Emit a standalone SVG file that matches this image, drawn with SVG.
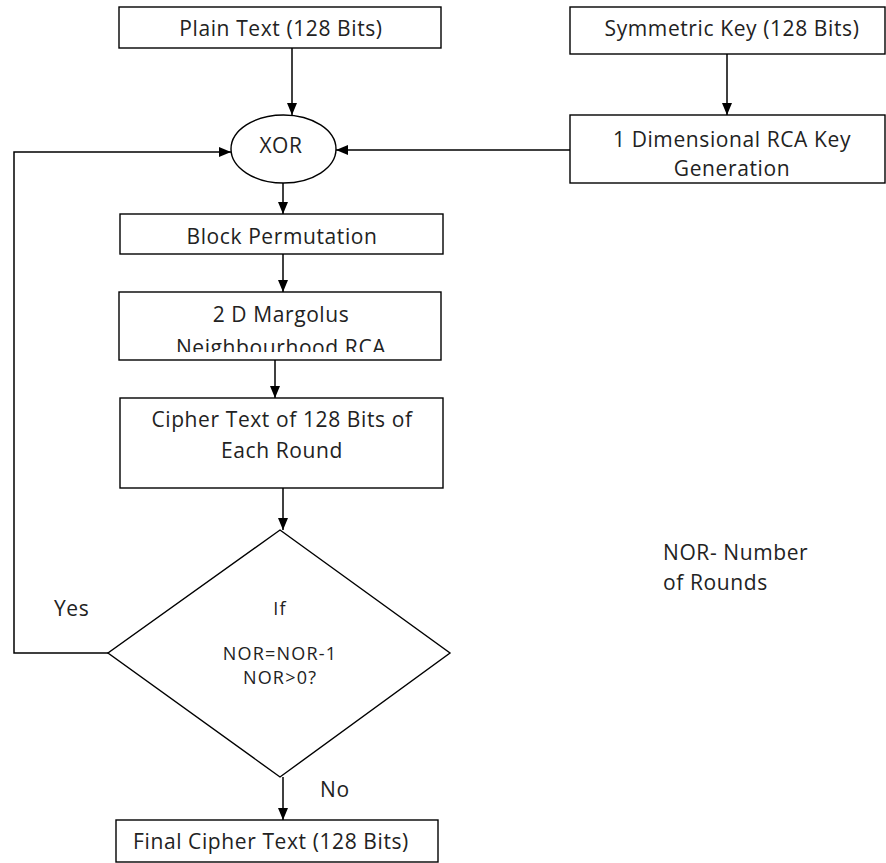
<svg xmlns="http://www.w3.org/2000/svg" width="886" height="863" viewBox="0 0 886 863">
<style>
.box{fill:#fff;stroke:#000;stroke-width:1.4}
.t{font-family:"Open Sans","Liberation Sans",sans-serif;font-size:21px;letter-spacing:0.6px;fill:#222;text-anchor:middle}
.s{font-family:"Open Sans","Liberation Sans",sans-serif;font-size:18px;letter-spacing:1.2px;fill:#222;text-anchor:middle}
.l{font-family:"Open Sans","Liberation Sans",sans-serif;font-size:21px;letter-spacing:0.6px;fill:#222}
.c{fill:none;stroke:#000;stroke-width:1.5}
</style>
<defs>
<marker id="ah" viewBox="0 0 12 10" refX="12" refY="5" markerWidth="12" markerHeight="10" markerUnits="userSpaceOnUse" orient="auto">
<path d="M0,0 L12,5 L0,10 z" fill="#000"/>
</marker>
<clipPath id="clipM"><rect x="119" y="292" width="323" height="60"/></clipPath>
</defs>
<rect width="886" height="863" fill="#fff"/>
<g id="connectors">
<path class="c" d="M292,48 L292,115" marker-end="url(#ah)"/>
<path class="c" d="M727,54 L727,115" marker-end="url(#ah)"/>
<path class="c" d="M571,150 L336,150" marker-end="url(#ah)"/>
<path class="c" d="M283,183 L283,214" marker-end="url(#ah)"/>
<path class="c" d="M283,254 L283,292" marker-end="url(#ah)"/>
<path class="c" d="M275,360 L275,398" marker-end="url(#ah)"/>
<path class="c" d="M283,488 L283,530" marker-end="url(#ah)"/>
<path class="c" d="M283,777 L283,820" marker-end="url(#ah)"/>
<path class="c" d="M108,653 L14,653 L14,152 L231,152" marker-end="url(#ah)"/>
</g>
<g id="plain">
<rect class="box" x="119" y="7" width="322" height="41"/>
<text class="t" x="281" y="36">Plain Text (128 Bits)</text>
</g>
<g id="symkey">
<rect class="box" x="570" y="7" width="315" height="47"/>
<text class="t" x="732" y="36">Symmetric Key (128 Bits)</text>
</g>
<g id="xor">
<ellipse class="box" cx="283.5" cy="149" rx="52.5" ry="34"/>
<text class="t" x="281" y="153">XOR</text>
</g>
<g id="rcakey">
<rect class="box" x="570" y="115" width="315" height="68"/>
<text class="t" x="732" y="147">1 Dimensional RCA Key</text>
<text class="t" x="732" y="176">Generation</text>
</g>
<g id="block">
<rect class="box" x="120" y="214" width="323" height="40"/>
<text class="t" x="282" y="244">Block Permutation</text>
</g>
<g id="margolus">
<rect class="box" x="119" y="292" width="322" height="68"/>
<text class="t" x="281" y="322">2 D Margolus</text>
<text class="t" x="281" y="355" clip-path="url(#clipM)">Neighbourhood RCA</text>
</g>
<g id="cipher">
<rect class="box" x="120" y="398" width="323" height="90"/>
<text class="t" x="282" y="427">Cipher Text of 128 Bits of</text>
<text class="t" x="282" y="458">Each Round</text>
</g>
<g id="decision">
<path class="box" d="M280,530 L450,653 L280,777 L108,653 Z"/>
<text class="s" x="280" y="615">If</text>
<text class="s" x="280" y="660">NOR=NOR-1</text>
<text class="s" x="280" y="684">NOR&gt;0?</text>
</g>
<g id="final">
<rect class="box" x="116" y="820" width="322" height="42"/>
<text class="t" x="271" y="849">Final Cipher Text (128 Bits)</text>
</g>
<g id="labels">
<text class="l" x="54" y="616">Yes</text>
<text class="l" x="320" y="797">No</text>
<text class="l" x="663" y="560">NOR- Number</text>
<text class="l" x="663" y="590">of Rounds</text>
</g>
</svg>
